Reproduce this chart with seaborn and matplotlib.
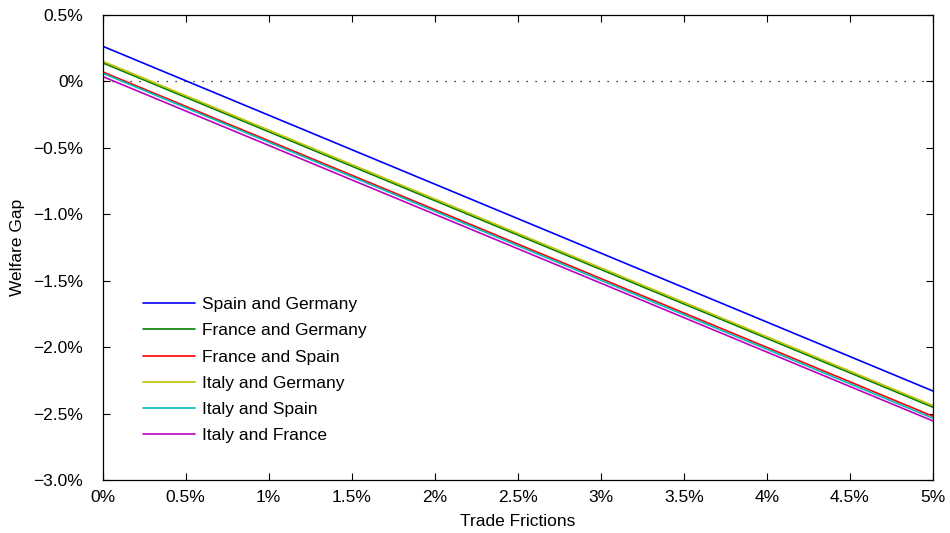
import matplotlib
matplotlib.use("Agg")
import matplotlib.pyplot as plt
import seaborn as sns
import pandas as pd
import numpy as np

# Data (percent)
frictions = [0.0, 5.0]
spain_germany = [0.265, -2.33]
france_germany = [0.140, -2.452]
france_spain = [0.072, -2.52]
italy_germany = [0.152, -2.44]
italy_spain = [0.062, -2.535]
italy_france = [0.037, -2.555]

series_names = ["Spain and Germany", "France and Germany", "France and Spain",
                "Italy and Germany", "Italy and Spain", "Italy and France"]
series_vals = [spain_germany, france_germany, france_spain,
               italy_germany, italy_spain, italy_france]
colors = [(0, 0, 1), (0, 0.5, 0), (1, 0, 0), (0.75, 0.75, 0), (0, 0.75, 0.75), (0.75, 0, 0.75)]

xticks = [0, 0.5, 1, 1.5, 2, 2.5, 3, 3.5, 4, 4.5, 5]
xticklabels = ["0%", "0.5%", "1%", "1.5%", "2%", "2.5%", "3%", "3.5%", "4%", "4.5%", "5%"]
yticks = [0.5, 0, -0.5, -1.0, -1.5, -2.0, -2.5, -3.0]
yticklabels = ["0.5%", "0%", "\u22120.5%", "\u22121.0%", "\u22121.5%", "\u22122.0%", "\u22122.5%", "\u22123.0%"]

rows = []
for name, vals in zip(series_names, series_vals):
    for x, y in zip(frictions, vals):
        rows.append({"Trade Frictions": x, "Welfare Gap": y, "Pair": name})
df = pd.DataFrame(rows)

sns.set_style("white")
plt.rcParams['font.family'] = ['Liberation Sans', 'DejaVu Sans']
plt.rcParams['text.color'] = 'black'
plt.rcParams['axes.labelcolor'] = 'black'

fig = plt.figure(figsize=(9.5, 5.33), dpi=100)
ax = fig.add_axes([0.108, 0.0994, 0.874, 0.8725])

ax.plot([0, 5], [0, 0], linestyle=(0, (1, 6.2)), color="black", linewidth=0.9)

sns.lineplot(data=df, x="Trade Frictions", y="Welfare Gap", hue="Pair",
             hue_order=series_names, palette=colors, linewidth=1.2, ax=ax,
             estimator=None, sort=False)

ax.set_xlim(0, 5)
ax.set_ylim(-3.0, 0.5)
ax.set_xticks(xticks)
ax.set_xticklabels(xticklabels)
ax.set_yticks(yticks)
ax.set_yticklabels(yticklabels)
ax.tick_params(direction="in", length=5, width=0.8, labelsize=12.5, colors="black",
               top=True, right=True, bottom=True, left=True)
ax.tick_params(axis="x", pad=7.5)
ax.tick_params(axis="y", pad=14)
for s in ax.spines.values():
    s.set_color("black")
    s.set_linewidth(0.9)
ax.set_xlabel("Trade Frictions", fontsize=12.5, labelpad=6, color="black")
ax.set_ylabel("Welfare Gap", fontsize=12.5, labelpad=6, color="black")

handles, labels = ax.get_legend_handles_labels()
leg = ax.legend(handles, labels, loc="lower left", bbox_to_anchor=(0.03, 0.045),
                frameon=False, fontsize=12.5, handlelength=3.0, handletextpad=0.4,
                labelspacing=0.64)
for t in leg.get_texts():
    t.set_color("black")

fig.savefig("out.png", dpi=100)
